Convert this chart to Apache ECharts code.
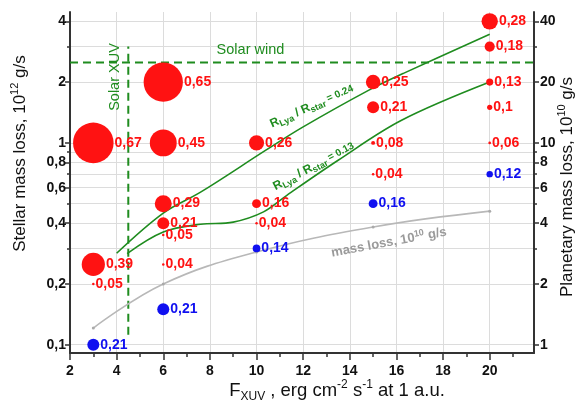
<!DOCTYPE html>
<html><head><meta charset="utf-8">
<script src="https://cdn.jsdelivr.net/npm/echarts@6/dist/echarts.min.js"></script>
<style>html,body{margin:0;padding:0;background:#fff}#c{width:581px;height:405px}</style>
</head><body><div id="c"></div>
<script>
// ---------- data ----------
const xMajor = [2, 4, 6, 8, 10, 12, 14, 16, 18, 20];
const xMinor = [3, 5, 7, 9, 11, 13, 15, 17, 19, 21];
const yMajor = [0.1, 0.2, 0.4, 0.6, 0.8, 1, 2, 4];
const yMinor = [0.3, 0.5, 0.7, 0.9, 3];
const rMajor = [1, 2, 4, 6, 8, 10, 20, 40];
const rMinor = [3, 5, 7, 9, 30];

// red points: F_XUV, stellar mass loss, label value
const redX = [3, 3, 3, 6, 6, 6, 6, 6, 6, 10, 10, 10, 15, 15, 15, 15, 20, 20, 20, 20, 20];
const redY = [1, 0.25, 0.2, 2, 1, 0.5, 0.4, 0.35, 0.25, 1, 0.5, 0.4, 2, 1.5, 1, 0.7, 4, 3, 2, 1.5, 1];
const redV = [0.67, 0.39, 0.05, 0.65, 0.45, 0.29, 0.21, 0.05, 0.04, 0.26, 0.16, 0.04, 0.25, 0.21, 0.08, 0.04, 0.28, 0.18, 0.13, 0.1, 0.06];

// blue points
const blueX = [3, 6, 10, 15, 20];
const blueY = [0.1, 0.15, 0.3, 0.5, 0.7];
const blueV = [0.21, 0.21, 0.14, 0.16, 0.12];

// green curves R_Lya/R_star
const upperX = [4, 6, 7.6, 10.4, 12, 14.8, 16.3, 20];
const upperY = [0.284, 0.449, 0.57, 0.92, 1.2, 1.82, 2.21, 3.45];
const lowerX = [4.45, 6, 7.6, 9, 10.3, 11.3, 13.5, 16.2, 20];
const lowerY = [0.283, 0.362, 0.395, 0.405, 0.455, 0.55, 0.82, 1.29, 2.0];

// planetary mass loss (10^10 g/s, right axis)
const grayX = [3, 6, 10, 15, 20];
const grayY = [1.21, 2.0, 2.88, 3.83, 4.59];

// reference levels
const solarXuvX = 4.5;
const solarXuvSpan = [0.112, 3.0];
const solarWindY = 2.5;

// axis ranges
const xMin = 2, xMax = 21.9;
const yMin = 0.091, yMax = 4.45;

// ---------- chart ----------
const FONT = '"Liberation Sans", Arial, Helvetica, sans-serif';
const RED = '#FF1212', BLUE = '#1010F0', GREEN = '#1F8C1F', GRAY = '#B8B8B8';
const AXC = '#333';
const fmt = v => String(+(+v).toPrecision(3)).replace('.', ',');
const sizeOf = v => Math.max(2.5, 62 * v - 1);

const chart = echarts.init(document.getElementById('c'), null, {renderer: 'canvas'});

function yAx(opts) {
  return Object.assign({
    type: 'log', logBase: 10, gridIndex: 0,
    axisLine: {show: false},
    axisTick: {show: false},
    axisLabel: {show: false},
    splitLine: {show: false},
    minorTick: {show: false},
    minorSplitLine: {show: false}
  }, opts);
}

const tickLabelStyle = {fontFamily: FONT, fontWeight: 'bold', fontSize: 14, color: '#111'};

const option = {
  animation: false,
  backgroundColor: '#fff',
  grid: {left: 70, right: 47, top: 12, bottom: 52, containLabel: false},
  xAxis: [
    {
      type: 'value', min: xMin, max: xMax, position: 'bottom',
      axisLine: {show: true, onZero: false, lineStyle: {color: AXC, width: 2}},
      axisTick: {show: true, customValues: xMajor, length: 7, lineStyle: {color: AXC, width: 1.5}},
      axisLabel: Object.assign({customValues: xMajor, margin: 11, formatter: v => String(v)}, tickLabelStyle),
      splitLine: {show: true, lineStyle: {color: '#DCDCDC', width: 1}}
    },
    {
      type: 'value', min: xMin, max: xMax, position: 'bottom',
      axisLine: {show: false},
      axisTick: {show: true, customValues: xMinor, length: 4, lineStyle: {color: AXC, width: 1.5}},
      axisLabel: {show: false},
      splitLine: {show: false}
    }
  ],
  yAxis: [
    yAx({
      position: 'left', min: yMin, max: yMax,
      axisLine: {show: true, lineStyle: {color: AXC, width: 2}},
      axisTick: {show: true, customValues: yMajor, length: 5, lineStyle: {color: AXC, width: 1.5}},
      axisLabel: Object.assign({show: true, customValues: yMajor, margin: 4, formatter: v => fmt(v)}, tickLabelStyle),
      splitLine: {show: true, lineStyle: {color: '#DCDCDC', width: 1}}
    }),
    yAx({
      position: 'left', min: yMin, max: yMax,
      axisTick: {show: true, customValues: yMinor, length: 3, lineStyle: {color: AXC, width: 1.5}},
      splitLine: {show: true, lineStyle: {color: '#DCDCDC', width: 1}}
    }),
    yAx({
      position: 'right', min: yMin * 10, max: yMax * 10,
      axisLine: {show: true, lineStyle: {color: AXC, width: 2}},
      axisTick: {show: true, customValues: rMajor, length: 5, lineStyle: {color: AXC, width: 1.5}},
      axisLabel: Object.assign({show: true, customValues: rMajor, margin: 6, formatter: v => fmt(v)}, tickLabelStyle)
    }),
    yAx({
      position: 'right', min: yMin * 10, max: yMax * 10,
      axisTick: {show: true, customValues: rMinor, length: 3, lineStyle: {color: AXC, width: 1.5}}
    })
  ],
  series: [
    {
      name: 'Solar wind', type: 'line', xAxisIndex: 0, yAxisIndex: 0, symbol: 'none', silent: true,
      data: [[xMin, solarWindY], [xMax, solarWindY]],
      lineStyle: {color: GREEN, width: 2, type: [8, 5]}, z: 3
    },
    {
      name: 'Solar XUV', type: 'line', xAxisIndex: 0, yAxisIndex: 0, symbol: 'none', silent: true,
      data: [[solarXuvX, solarXuvSpan[0]], [solarXuvX, solarXuvSpan[1]]],
      lineStyle: {color: GREEN, width: 2, type: [8, 5]}, z: 3
    },
    {
      name: 'planetary', type: 'line', xAxisIndex: 0, yAxisIndex: 2, smooth: 0.4,
      symbol: 'circle', symbolSize: 3, showSymbol: true,
      itemStyle: {color: '#AAAAAA'},
      lineStyle: {color: GRAY, width: 1.6},
      data: grayX.map((x, i) => [x, grayY[i]]), z: 3
    },
    {
      name: 'upper', type: 'line', xAxisIndex: 0, yAxisIndex: 0, smooth: 0.35, symbol: 'none',
      lineStyle: {color: GREEN, width: 1.6},
      data: upperX.map((x, i) => [x, upperY[i]]), z: 3
    },
    {
      name: 'lower', type: 'line', xAxisIndex: 0, yAxisIndex: 0, smooth: 0.35, symbol: 'none',
      lineStyle: {color: GREEN, width: 1.6},
      data: lowerX.map((x, i) => [x, lowerY[i]]), z: 3
    },
    {
      name: 'blue', type: 'scatter', xAxisIndex: 0, yAxisIndex: 0,
      data: blueX.map((x, i) => [x, blueY[i], blueV[i]]),
      symbolSize: d => sizeOf(d[2]),
      itemStyle: {color: BLUE, opacity: 1},
      label: {show: true, position: 'right', distance: 1, formatter: p => fmt(p.data[2]),
        color: BLUE, fontFamily: FONT, fontWeight: 'bold', fontSize: 14},
      z: 5
    },
    {
      name: 'red', type: 'scatter', xAxisIndex: 0, yAxisIndex: 0,
      data: redX.map((x, i) => [x, redY[i], redV[i]]),
      symbolSize: d => sizeOf(d[2]),
      itemStyle: {color: RED, opacity: 1},
      label: {show: true, position: 'right', distance: 1, formatter: p => fmt(p.data[2]),
        color: RED, fontFamily: FONT, fontWeight: 'bold', fontSize: 14},
      z: 5
    }
  ]
};
chart.setOption(option);

// annotations positioned in data coordinates
function px(x, y, yi) {
  return chart.convertToPixel({xAxisIndex: 0, yAxisIndex: yi || 0}, [x, y]);
}
const rLabelRich = {
  r: {fontFamily: FONT, fontWeight: 'bold', fontSize: 12, lineHeight: 16, verticalAlign: 'middle', fill: GREEN},
  s: {fontFamily: FONT, fontWeight: 'bold', fontSize: 9, lineHeight: 9, verticalAlign: 'bottom', fill: GREEN},
  e: {fontFamily: FONT, fontWeight: 'bold', fontSize: 10, lineHeight: 16, verticalAlign: 'middle', fill: GREEN}
};
const axisRich = {
  n: {fontFamily: FONT, fontSize: 17, lineHeight: 22, verticalAlign: 'middle', fill: '#111'},
  sup: {fontFamily: FONT, fontSize: 11, lineHeight: 12, verticalAlign: 'top', fill: '#111'},
  sub: {fontFamily: FONT, fontSize: 11, lineHeight: 10, verticalAlign: 'bottom', fill: '#111'}
};
const botRich = {
  n: {fontFamily: FONT, fontSize: 18.5, lineHeight: 24, verticalAlign: 'middle', fill: '#111'},
  sup: {fontFamily: FONT, fontSize: 12, lineHeight: 13, verticalAlign: 'top', fill: '#111'},
  sub: {fontFamily: FONT, fontSize: 12, lineHeight: 11, verticalAlign: 'bottom', fill: '#111'}
};

const pWind = px(9.74, 2.88);
const pXuv = px(3.91, 2.12);
const pUp = px(12.37, 1.52);
const pLo = px(12.45, 0.766);
const pGray = px(15.68, 0.321);
const rect = chart.getModel().getComponent('grid', 0).coordinateSystem.getRect();

chart.setOption({
  graphic: [
    {type: 'text', x: pWind[0], y: pWind[1], z: 10,
      style: {text: 'Solar wind', fill: GREEN, font: '14.5px ' + FONT, align: 'center', verticalAlign: 'middle'}},
    {type: 'text', x: pXuv[0], y: pXuv[1], rotation: Math.PI / 2, z: 10,
      style: {text: 'Solar XUV', fill: GREEN, font: '14.5px ' + FONT, align: 'center', verticalAlign: 'middle'}},
    {type: 'text', x: pUp[0], y: pUp[1], rotation: 24 * Math.PI / 180, z: 10,
      style: {text: '{r|R}{s|Lya}{r| / R}{s|star}{e| = 0.24}', rich: rLabelRich, align: 'center', verticalAlign: 'middle'}},
    {type: 'text', x: pLo[0], y: pLo[1], rotation: 28 * Math.PI / 180, z: 10,
      style: {text: '{r|R}{s|Lya}{r| / R}{s|star}{e| = 0.13}', rich: rLabelRich, align: 'center', verticalAlign: 'middle'}},
    {type: 'text', x: pGray[0], y: pGray[1], rotation: 10.5 * Math.PI / 180, z: 10,
      style: {text: '{a|mass loss, 10}{b|10}{a| g/s}', align: 'center', verticalAlign: 'middle',
        rich: {
          a: {fontFamily: FONT, fontWeight: 'bold', fontSize: 13, lineHeight: 16, verticalAlign: 'middle', fill: '#9A9A9A'},
          b: {fontFamily: FONT, fontWeight: 'bold', fontSize: 9, lineHeight: 9, verticalAlign: 'top', fill: '#9A9A9A'}
        }}},
    // axis titles
    {type: 'text', x: 20, y: rect.y + rect.height / 2 - 29, rotation: Math.PI / 2, z: 10,
      style: {text: '{n|Stellar mass loss, 10}{sup|12}{n| g/s}', rich: axisRich, align: 'center', verticalAlign: 'middle'}},
    {type: 'text', x: 567, y: rect.y + rect.height / 2 + 4.5, rotation: Math.PI / 2, z: 10,
      style: {text: '{n|Planetary mass loss, 10}{sup|10}{n| g/s}', rich: axisRich, align: 'center', verticalAlign: 'middle'}},
    {type: 'text', x: rect.x + rect.width / 2 + 35, y: 391, z: 10,
      style: {text: '{n|F}{sub|XUV}{n| , erg cm}{sup|-2}{n| s}{sup|-1}{n| at 1 a.u.}', rich: botRich, align: 'center', verticalAlign: 'middle'}}
  ]
});
</script>
</body></html>
